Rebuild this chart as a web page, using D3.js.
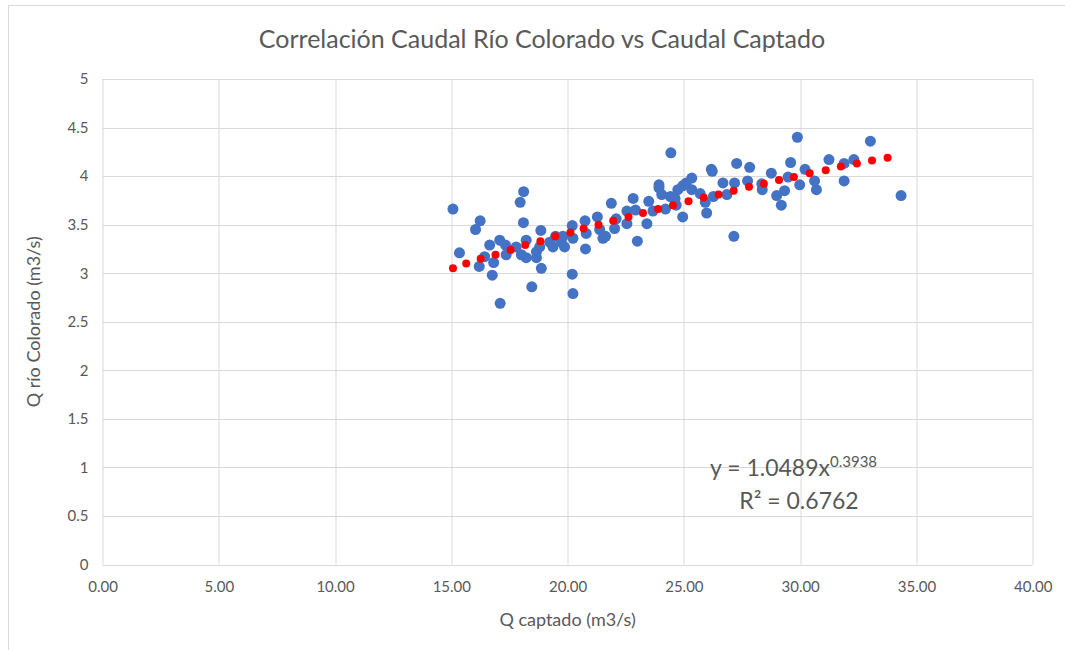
<!DOCTYPE html>
<html>
<head>
<meta charset="utf-8">
<script src="https://cdn.jsdelivr.net/npm/d3@7"></script>
<style>
  body { margin: 0; background: #fff; }
  text { font-family: Lato, "Open Sans", sans-serif; fill: #595959; }
  .grid line { stroke: #d9d9d9; }
  .axis path, .axis line { display: none; }
</style>
</head>
<body>
<script>
// Q captado (m3/s) for each measured point
var qCaptado = [15.07, 15.35, 16.04, 16.24, 16.20, 16.43, 16.65, 16.82, 16.76, 17.10,
  17.08, 17.33, 17.36, 17.79, 17.96, 18.11, 18.10, 18.22, 18.01, 18.22,
  18.46, 18.85, 18.66, 18.66, 18.87, 18.80, 19.23, 19.48, 19.37, 19.73,
  19.87, 19.80, 20.20, 20.23, 20.20, 20.23, 20.75, 20.80, 20.77, 21.28,
  21.38, 21.52, 21.63, 21.88, 22.02, 22.09, 22.55, 22.55, 22.82, 22.92,
  23.00, 23.41, 23.49, 23.67, 23.93, 23.93, 24.05, 24.21, 24.42, 24.44,
  24.67, 24.62, 24.74, 24.95, 24.95, 25.10, 25.34, 25.34, 25.70, 25.92,
  25.98, 26.18, 26.22, 26.27, 26.68, 26.85, 27.18, 27.15, 27.27, 27.74,
  27.83, 28.35, 28.37, 28.76, 28.99, 29.19, 29.33, 29.48, 29.59, 29.88,
  29.98, 30.21, 30.62, 30.70, 31.24, 31.89, 31.89, 32.31, 33.02, 34.34];

// Q rio Colorado (m3/s), same order
var qRio = [3.66, 3.21, 3.45, 3.54, 3.07, 3.17, 3.29, 3.11, 2.98, 2.69,
  3.34, 3.29, 3.19, 3.27, 3.73, 3.84, 3.52, 3.34, 3.19, 3.16,
  2.86, 3.44, 3.22, 3.16, 3.05, 3.27, 3.32, 3.38, 3.27, 3.32,
  3.27, 3.38, 3.49, 3.36, 2.99, 2.79, 3.54, 3.41, 3.25, 3.58,
  3.45, 3.36, 3.38, 3.72, 3.46, 3.56, 3.64, 3.51, 3.77, 3.65,
  3.33, 3.51, 3.74, 3.64, 3.91, 3.88, 3.81, 3.66, 3.79, 4.24,
  3.70, 3.77, 3.86, 3.90, 3.58, 3.93, 3.98, 3.86, 3.82, 3.73,
  3.62, 4.07, 4.05, 3.79, 3.93, 3.81, 3.93, 3.38, 4.13, 3.95,
  4.09, 3.92, 3.86, 4.03, 3.80, 3.70, 3.85, 3.99, 4.14, 4.40,
  3.91, 4.07, 3.95, 3.86, 4.17, 4.13, 3.95, 4.17, 4.36, 3.80];

// Fitted series (red markers)
var fitX = [15.07, 15.64, 16.26, 16.90, 17.55, 18.18, 18.83, 19.47, 20.12, 20.69,
  21.33, 21.96, 22.62, 23.24, 23.89, 24.53, 25.20, 25.85, 26.49, 27.14,
  27.80, 28.44, 29.09, 29.73, 30.41, 31.10, 31.75, 32.44, 33.09, 33.76];
var fitY = [3.05, 3.10, 3.15, 3.19, 3.24, 3.29, 3.33, 3.38, 3.42, 3.46,
  3.50, 3.54, 3.58, 3.62, 3.66, 3.70, 3.74, 3.78, 3.81, 3.85,
  3.89, 3.92, 3.96, 3.99, 4.03, 4.06, 4.10, 4.13, 4.16, 4.19];

var xTicks = [0, 5, 10, 15, 20, 25, 30, 35, 40],
    yTicks = [0, 0.5, 1, 1.5, 2, 2.5, 3, 3.5, 4, 4.5, 5];

var W = 1065, H = 650,
    margin = {top: 79, right: 32.3, bottom: 85.5, left: 102.5},
    width = W - margin.left - margin.right,
    height = H - margin.top - margin.bottom;

var svg = d3.select("body").append("svg")
            .attr("width", W)
            .attr("height", H);

// chart frame (only top and left edges are inside the picture)
svg.append("rect")
   .attr("x", 8.5).attr("y", 5.5)
   .attr("width", W + 20).attr("height", H + 20)
   .attr("fill", "none")
   .attr("stroke", "#d9d9d9");

var g = svg.append("g")
           .attr("transform", "translate(" + margin.left + "," + margin.top + ")");

var xScale = d3.scaleLinear().domain([0, 40]).range([0, width]),
    yScale = d3.scaleLinear().domain([0, 5]).range([height, 0]);

// gridlines
g.append("g")
 .attr("class", "grid")
 .selectAll("line.v")
 .data(xTicks)
 .enter().append("line")
 .attr("x1", d => Math.round(xScale(d)) + 0.5)
 .attr("x2", d => Math.round(xScale(d)) + 0.5)
 .attr("y1", 0).attr("y2", height);

g.append("g")
 .attr("class", "grid")
 .selectAll("line.h")
 .data(yTicks)
 .enter().append("line")
 .attr("y1", d => Math.round(yScale(d)) + 0.5)
 .attr("y2", d => Math.round(yScale(d)) + 0.5)
 .attr("x1", 0).attr("x2", width);

// axes
var xAxis = d3.axisBottom(xScale)
              .tickValues(xTicks)
              .tickSize(0)
              .tickPadding(17)
              .tickFormat(d3.format(".2f"));

var yAxis = d3.axisLeft(yScale)
              .tickValues(yTicks)
              .tickSize(0)
              .tickPadding(14)
              .tickFormat(d => d);

g.append("g")
 .attr("class", "axis")
 .attr("transform", "translate(0," + height + ")")
 .call(xAxis)
 .selectAll("text")
 .style("font-size", "15px")
 .style("fill", "#595959");

g.append("g")
 .attr("class", "axis")
 .call(yAxis)
 .selectAll("text")
 .style("font-size", "15px")
 .style("fill", "#595959");

// data points
var points = qCaptado.map((d, i) => ({x: d, y: qRio[i]}));
var fit = fitX.map((d, i) => ({x: d, y: fitY[i]}));

g.append("g")
 .selectAll("circle")
 .data(points)
 .enter().append("circle")
 .attr("cx", d => xScale(d.x))
 .attr("cy", d => yScale(d.y))
 .attr("r", 5.5)
 .attr("fill", "#4472c4");

g.append("g")
 .selectAll("circle")
 .data(fit)
 .enter().append("circle")
 .attr("cx", d => xScale(d.x))
 .attr("cy", d => yScale(d.y))
 .attr("r", 4)
 .attr("fill", "#ff0000");

// titles
svg.append("text")
   .attr("x", 542).attr("y", 48)
   .attr("text-anchor", "middle")
   .style("font-size", "25px")
   .text("Correlación Caudal Río Colorado vs Caudal Captado");

svg.append("text")
   .attr("x", margin.left + width / 2).attr("y", 626)
   .attr("text-anchor", "middle")
   .style("font-size", "18px")
   .text("Q captado (m3/s)");

svg.append("text")
   .attr("transform", "translate(40," + (margin.top + height / 2) + ") rotate(-90)")
   .attr("text-anchor", "middle")
   .style("font-size", "18px")
   .text("Q río Colorado (m3/s)");

// trendline equation
var eq = svg.append("text")
            .attr("x", 710).attr("y", 476)
            .style("font-size", "23px");
eq.append("tspan").text("y = 1.0489x");
eq.append("tspan")
  .attr("dy", -9)
  .style("font-size", "15px")
  .text("0.3938");

svg.append("text")
   .attr("x", 799).attr("y", 509)
   .attr("text-anchor", "middle")
   .style("font-size", "23px")
   .text("R² = 0.6762");
</script>
</body>
</html>
